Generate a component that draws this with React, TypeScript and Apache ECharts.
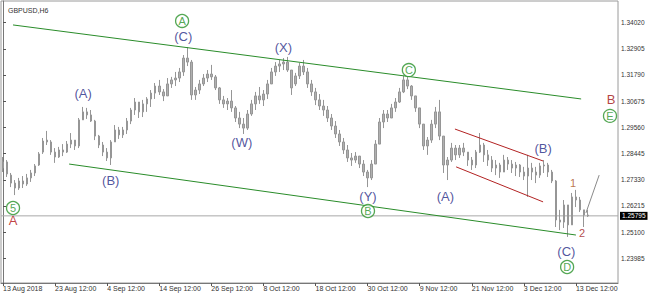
import React, { useEffect, useRef } from "react";
import * as echarts from "echarts";

// ---- OHLC data (one candle per ~4-bar slice of the H4 chart) ----
const opens = [
  1.2783, 1.2809, 1.2753, 1.2719, 1.2698, 1.2728, 1.2715, 1.2741, 1.2762, 1.2796,
  1.2851, 1.2902, 1.2894, 1.2851, 1.2830, 1.2860, 1.2851, 1.2885, 1.2902, 1.2877,
  1.2988, 1.3022, 1.3009, 1.2983, 1.2919, 1.2881, 1.2851, 1.2826, 1.2894, 1.2945,
  1.2924, 1.2945, 1.2983, 1.3030, 1.3064, 1.3022, 1.3056, 1.3077, 1.3102, 1.3132,
  1.3107, 1.3090, 1.3141, 1.3158, 1.3166, 1.3192, 1.3251, 1.3234, 1.3094, 1.3115,
  1.3141, 1.3166, 1.3183, 1.3171, 1.3124, 1.3073, 1.3056, 1.3068, 1.3039, 1.2996,
  1.2970, 1.2953, 1.3013, 1.3056, 1.3090, 1.3073, 1.3098, 1.3141, 1.3192, 1.3217,
  1.3226, 1.3234, 1.3200, 1.3141, 1.3175, 1.3217, 1.3192, 1.3141, 1.3107, 1.3073,
  1.3047, 1.3030, 1.2996, 1.2962, 1.2928, 1.2894, 1.2860, 1.2826, 1.2817, 1.2834,
  1.2800, 1.2766, 1.2741, 1.2800, 1.2885, 1.2979, 1.3013, 1.2996, 1.3039, 1.3064,
  1.3107, 1.3158, 1.3132, 1.3090, 1.3039, 1.2970, 1.2877, 1.2902, 1.2970, 1.3022,
  1.2919, 1.2796, 1.2817, 1.2868, 1.2839, 1.2868, 1.2851, 1.2817, 1.2796, 1.2851,
  1.2881, 1.2839, 1.2817, 1.2783, 1.2796, 1.2766, 1.2817, 1.2800, 1.2783, 1.2796,
  1.2766, 1.2749, 1.2783, 1.2766, 1.2753, 1.2792, 1.2796, 1.2766, 1.2728, 1.2562,
  1.2553, 1.2626, 1.2541, 1.2660, 1.2647, 1.2605, 1.2583,
];
const closes = [
  1.2809, 1.2758, 1.2719, 1.2698, 1.2728, 1.2715, 1.2741, 1.2762, 1.2792, 1.2843,
  1.2898, 1.2894, 1.2851, 1.2830, 1.2860, 1.2851, 1.2885, 1.2902, 1.2877, 1.2988,
  1.3022, 1.3009, 1.2983, 1.2919, 1.2881, 1.2851, 1.2826, 1.2894, 1.2945, 1.2924,
  1.2945, 1.2983, 1.3030, 1.3064, 1.3022, 1.3056, 1.3077, 1.3102, 1.3132, 1.3107,
  1.3090, 1.3141, 1.3158, 1.3166, 1.3192, 1.3251, 1.3234, 1.3094, 1.3115, 1.3141,
  1.3166, 1.3183, 1.3171, 1.3124, 1.3073, 1.3056, 1.3068, 1.3039, 1.2996, 1.2970,
  1.2953, 1.3013, 1.3056, 1.3090, 1.3073, 1.3098, 1.3141, 1.3192, 1.3217, 1.3226,
  1.3234, 1.3200, 1.3124, 1.3175, 1.3217, 1.3192, 1.3141, 1.3107, 1.3073, 1.3047,
  1.3030, 1.2996, 1.2962, 1.2928, 1.2894, 1.2860, 1.2826, 1.2817, 1.2834, 1.2800,
  1.2766, 1.2741, 1.2800, 1.2885, 1.2979, 1.3013, 1.2996, 1.3039, 1.3064, 1.3107,
  1.3158, 1.3132, 1.3090, 1.3039, 1.2970, 1.2877, 1.2902, 1.2970, 1.3022, 1.2919,
  1.2796, 1.2817, 1.2868, 1.2839, 1.2868, 1.2851, 1.2817, 1.2796, 1.2851, 1.2881,
  1.2839, 1.2817, 1.2783, 1.2796, 1.2766, 1.2817, 1.2800, 1.2783, 1.2796, 1.2766,
  1.2749, 1.2783, 1.2766, 1.2753, 1.2792, 1.2796, 1.2766, 1.2728, 1.2562, 1.2553,
  1.2626, 1.2541, 1.2660, 1.2647, 1.2605, 1.2583, 1.25795,
];
const lows = [
  1.2766, 1.2745, 1.2702, 1.2668, 1.2690, 1.2698, 1.2707, 1.2724, 1.2749, 1.2792,
  1.2843, 1.2881, 1.2839, 1.2805, 1.2826, 1.2834, 1.2847, 1.2868, 1.2860, 1.2868,
  1.2988, 1.2992, 1.2979, 1.2902, 1.2868, 1.2834, 1.2813, 1.2796, 1.2894, 1.2907,
  1.2911, 1.2928, 1.2970, 1.3009, 1.2996, 1.3000, 1.3022, 1.3043, 1.3077, 1.3094,
  1.3068, 1.3090, 1.3124, 1.3132, 1.3149, 1.3175, 1.3217, 1.3073, 1.3073, 1.3098,
  1.3132, 1.3149, 1.3158, 1.3115, 1.3056, 1.3039, 1.3030, 1.3022, 1.2979, 1.2953,
  1.2928, 1.2945, 1.3005, 1.3030, 1.3056, 1.3047, 1.3077, 1.3141, 1.3175, 1.3192,
  1.3200, 1.3192, 1.3094, 1.3132, 1.3162, 1.3179, 1.3124, 1.3090, 1.3051, 1.3030,
  1.3005, 1.2979, 1.2945, 1.2911, 1.2877, 1.2843, 1.2809, 1.2792, 1.2805, 1.2783,
  1.2749, 1.2702, 1.2732, 1.2800, 1.2885, 1.2953, 1.2979, 1.2996, 1.3022, 1.3060,
  1.3102, 1.3119, 1.3073, 1.3022, 1.2953, 1.2860, 1.2839, 1.2890, 1.2953, 1.2902,
  1.2762, 1.2732, 1.2809, 1.2817, 1.2826, 1.2834, 1.2792, 1.2775, 1.2783, 1.2847,
  1.2809, 1.2792, 1.2766, 1.2753, 1.2741, 1.2766, 1.2775, 1.2762, 1.2749, 1.2745,
  1.2732, 1.2660, 1.2732, 1.2719, 1.2741, 1.2762, 1.2745, 1.2719, 1.2532, 1.2519,
  1.2528, 1.2490, 1.2541, 1.2617, 1.2596, 1.2532, 1.2575,
];
const highs = [
  1.2830, 1.2817, 1.2762, 1.2732, 1.2741, 1.2749, 1.2758, 1.2775, 1.2800, 1.2851,
  1.2911, 1.2941, 1.2902, 1.2868, 1.2873, 1.2885, 1.2898, 1.2932, 1.2902, 1.2996,
  1.3043, 1.3039, 1.3030, 1.2988, 1.2924, 1.2894, 1.2868, 1.2902, 1.2966, 1.2958,
  1.2958, 1.2996, 1.3039, 1.3081, 1.3064, 1.3073, 1.3085, 1.3115, 1.3145, 1.3158,
  1.3119, 1.3166, 1.3171, 1.3192, 1.3209, 1.3264, 1.3298, 1.3243, 1.3128, 1.3158,
  1.3183, 1.3200, 1.3222, 1.3179, 1.3128, 1.3090, 1.3081, 1.3115, 1.3047, 1.3022,
  1.2996, 1.3030, 1.3073, 1.3107, 1.3128, 1.3115, 1.3158, 1.3209, 1.3234, 1.3243,
  1.3251, 1.3256, 1.3200, 1.3188, 1.3230, 1.3243, 1.3209, 1.3158, 1.3124, 1.3098,
  1.3073, 1.3047, 1.3013, 1.2983, 1.2945, 1.2911, 1.2881, 1.2847, 1.2851, 1.2834,
  1.2817, 1.2775, 1.2817, 1.2902, 1.2996, 1.3030, 1.3030, 1.3056, 1.3081, 1.3124,
  1.3175, 1.3171, 1.3136, 1.3090, 1.3039, 1.2970, 1.2915, 1.2988, 1.3043, 1.3073,
  1.2919, 1.2830, 1.2890, 1.2881, 1.2881, 1.2890, 1.2851, 1.2830, 1.2860, 1.2932,
  1.2890, 1.2860, 1.2834, 1.2817, 1.2805, 1.2839, 1.2830, 1.2817, 1.2809, 1.2800,
  1.2788, 1.2839, 1.2805, 1.2788, 1.2805, 1.2817, 1.2805, 1.2775, 1.2732, 1.2605,
  1.2647, 1.2626, 1.2677, 1.2690, 1.2660, 1.2605, 1.2605,
];

// ---- axes ----
const xTickLabels = [
  "13 Aug 2018", "23 Aug 12:00", "4 Sep 12:00", "14 Sep 12:00", "26 Sep 12:00", "8 Oct 12:00",
  "18 Oct 12:00", "30 Oct 12:00", "9 Nov 12:00", "21 Nov 12:00", "3 Dec 12:00", "13 Dec 12:00",
];
const xTickIndex = [0, 13, 26, 39, 52, 65, 78, 91, 104, 117, 130, 143];
const slotCount = 154;
const yTickValues = [1.23985, 1.251, 1.26215, 1.2733, 1.28445, 1.2956, 1.30675, 1.3179, 1.32905, 1.3402];
const yMin = 1.22938;
const yMax = 1.34939;
const currentPrice = 1.25795;

// ---- drawn lines (slot index, price) ----
const greenUpper = [[2.5, 1.3392], [144.3, 1.3077]];
const greenLower = [[16.5, 1.28], [143.0, 1.2498]];
const redUpper = [[112.8, 1.2949], [134.8, 1.2813]];
const redLower = [[113.1, 1.2788], [134.8, 1.2639]];
const projection = [[145.5, 1.2592], [148.8, 1.2753]];

// ---- wave labels ----
const waveText = ["(C)", "(A)", "(B)", "(W)", "(X)", "(Y)", "(A)", "(B)", "(C)"];
const waveIdx = [45.0, 20.0, 26.9, 59.6, 70.0, 91.1, 110.4, 134.8, 140.6];
const wavePrice = [1.3341, 1.3102, 1.2728, 1.289, 1.3298, 1.266, 1.2664, 1.2868, 1.2426];

const circText = ["A", "B", "C", "D", "E", "5"];
const circIdx = [44.7, 91.1, 101.3, 140.8, 151.5, 2.5];
const circPrice = [1.3409, 1.26, 1.32, 1.2362, 1.3005, 1.2613];

const redText = ["A", "B", "1", "2"];
const redIdx = [2.5, 151.8, 142.3, 144.5];
const redPrice = [1.2558, 1.3073, 1.2719, 1.2507];
const redColors = ["#b01010", "#a01010", "#a8551e", "#a01818"];

const FONT = "Liberation Sans";

export default function App() {
  const ref = useRef<HTMLDivElement>(null);
  useEffect(() => {
    if (!ref.current) return;
    const chart = echarts.init(ref.current, undefined, { renderer: "svg" });
    const tickSet = new Set(xTickIndex);
    const categories: string[] = [];
    for (let i = 0; i < slotCount; i++) {
      const k = xTickIndex.indexOf(i);
      categories.push(k >= 0 ? xTickLabels[k] : "");
    }
    const candles = opens.map((o, i) => [o, closes[i], lows[i], highs[i]]);
    const lineSeries = (data: number[][], color: string) => ({
      type: "line",
      xAxisIndex: 1,
      yAxisIndex: 0,
      data,
      symbol: "none",
      silent: true,
      lineStyle: { color, width: 1 },
      z: 5,
    });
    const textItem = (t: string, x: number, y: number, color: string, size: number) => ({
      name: t,
      value: [x, y],
      label: { color, fontSize: size },
    });
    chart.setOption({
      animation: false,
      title: {
        text: "GBPUSD,H6",
        left: 3,
        top: 2,
        textStyle: { fontSize: 7, fontWeight: "normal", color: "#333", fontFamily: FONT },
      },
      grid: {
        left: 1,
        top: 1,
        right: 32,
        bottom: 11,
        show: true,
        borderColor: "#9a9a9a",
        borderWidth: 1,
        backgroundColor: "#fff",
      },
      xAxis: [
        {
          type: "category",
          data: categories,
          boundaryGap: true,
          axisLine: { show: true, lineStyle: { color: "#777" } },
          axisTick: {
            show: true,
            alignWithLabel: true,
            interval: (i: number) => tickSet.has(i),
            length: 3,
            lineStyle: { color: "#555" },
          },
          axisLabel: {
            interval: (i: number) => tickSet.has(i),
            align: "left",
            margin: 2,
            fontSize: 7,
            color: "#333",
            fontFamily: FONT,
          },
          splitLine: { show: false },
        },
        {
          type: "value",
          min: -0.5,
          max: slotCount - 0.5,
          show: false,
        },
      ],
      yAxis: {
        type: "value",
        position: "right",
        min: yMin,
        max: yMax,
        axisLine: { show: true, lineStyle: { color: "#777" } },
        axisTick: { show: true, length: 3, customValues: yTickValues, lineStyle: { color: "#555" } },
        axisLabel: {
          customValues: yTickValues,
          formatter: (v: number) => v.toFixed(5),
          fontSize: 6.5,
          lineHeight: 7,
          margin: 3,
          color: "#333",
          fontFamily: FONT,
        },
        splitLine: { show: false },
      },
      series: [
        {
          type: "line",
          xAxisIndex: 1,
          yAxisIndex: 0,
          data: [
            [-0.5, currentPrice],
            [slotCount - 0.5, currentPrice],
          ],
          symbol: "none",
          silent: true,
          lineStyle: { color: "#a8a8a8", width: 1 },
          endLabel: {
            show: true,
            formatter: () => currentPrice.toFixed(5),
            backgroundColor: "#000",
            color: "#fff",
            fontSize: 6.5,
            lineHeight: 7,
            padding: [1, 2, 0, 2],
            distance: 2,
            fontFamily: FONT,
          },
          z: 1,
        },
        {
          type: "candlestick",
          xAxisIndex: 0,
          yAxisIndex: 0,
          data: candles,
          barWidth: 2,
          itemStyle: {
            color: "#b0b0b0",
            color0: "#b0b0b0",
            borderColor: "#969696",
            borderColor0: "#969696",
            borderWidth: 1,
          },
          z: 2,
        },
        lineSeries(greenUpper, "#2a8c2a"),
        lineSeries(greenLower, "#2a8c2a"),
        lineSeries(redUpper, "#b22222"),
        lineSeries(redLower, "#b22222"),
        lineSeries(projection, "#8a8a8a"),
        {
          type: "scatter",
          xAxisIndex: 1,
          yAxisIndex: 0,
          symbolSize: 1,
          itemStyle: { color: "rgba(0,0,0,0)" },
          silent: true,
          z: 10,
          label: {
            show: true,
            position: "inside",
            formatter: (p: any) => p.name,
            fontFamily: FONT,
          },
          data: waveText.map((t, i) => textItem(t, waveIdx[i], wavePrice[i], "#1f2a85", 13)),
        },
        {
          type: "scatter",
          xAxisIndex: 1,
          yAxisIndex: 0,
          symbol: "circle",
          symbolSize: 13,
          itemStyle: { color: "rgba(255,255,255,0.9)", borderColor: "#2a922a", borderWidth: 1.3 },
          silent: true,
          z: 10,
          label: {
            show: true,
            position: "inside",
            formatter: (p: any) => p.name,
            color: "#2a922a",
            fontSize: 11,
            fontFamily: FONT,
          },
          data: circText.map((t, i) => ({ name: t, value: [circIdx[i], circPrice[i]] })),
        },
        {
          type: "scatter",
          xAxisIndex: 1,
          yAxisIndex: 0,
          symbolSize: 1,
          itemStyle: { color: "rgba(0,0,0,0)" },
          silent: true,
          z: 10,
          label: {
            show: true,
            position: "inside",
            formatter: (p: any) => p.name,
            fontFamily: FONT,
          },
          data: redText.map((t, i) =>
            textItem(t, redIdx[i], redPrice[i], redColors[i], t === "1" || t === "2" ? 11 : 13)
          ),
        },
      ],
    });
    return () => chart.dispose();
  }, []);
  return (
    <div
      ref={ref}
      style={{ position: "fixed", left: 0, top: 0, width: 650, height: 294, background: "#fff" }}
    />
  );
}
